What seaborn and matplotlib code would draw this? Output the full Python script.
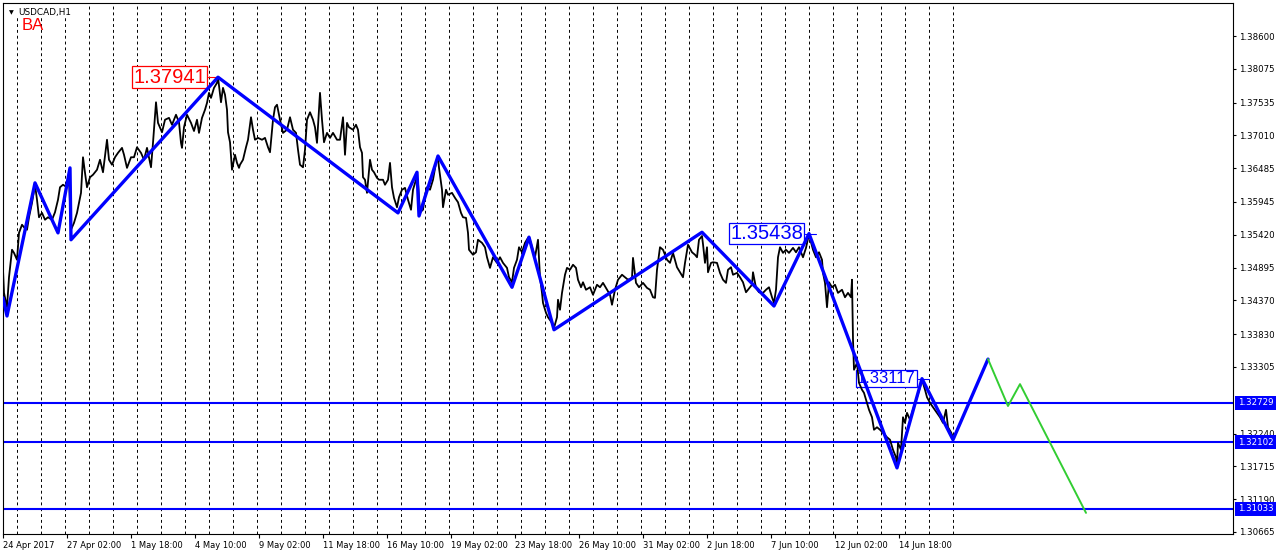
import matplotlib
matplotlib.use('Agg')
import matplotlib.pyplot as plt
import seaborn as sns
import numpy as np

# hourly bar index (0 = first bar on screen) and price
price_bars = [0, 1, 4, 6, 9, 11, 14, 16, 19, 21, 24, 26, 29, 32, 34, 36, 39, 42, 45, 49,
              52, 55, 57, 60, 64, 66, 68, 71, 74, 76, 78, 80, 82, 84, 87, 90, 94, 97, 100, 104,
              106, 109, 112, 115, 119, 121, 124, 128, 131, 134, 138, 141, 144, 148, 150, 153, 155, 159, 162, 166,
              169, 173, 176, 178, 179, 181, 184, 188, 191, 194, 196, 199, 202, 204, 206, 208, 211, 214, 215, 218,
              220, 222, 224, 225, 227, 229, 232, 234, 236, 237, 240, 243, 245, 248, 250, 252, 255, 259, 262, 265,
              267, 270, 272, 274, 277, 280, 284, 287, 290, 293, 295, 297, 300, 302, 304, 307, 310, 312, 314, 317,
              319, 321, 324, 327, 330, 334, 337, 340, 342, 344, 346, 350, 353, 355, 357, 359, 360, 362, 364, 367,
              369, 371, 374, 376, 380, 382, 385, 387, 389, 391, 394, 396, 399, 402, 405, 408, 410, 413, 415, 417,
              420, 422, 424, 427, 430, 433, 435, 436, 439, 440, 443, 445, 449, 452, 455, 458, 460, 463, 465, 466,
              470, 473, 475, 479, 482, 484, 487, 490, 494, 497, 500, 504, 506, 509, 511, 514, 516, 519, 522, 525,
              526, 529, 532, 535, 537, 539, 540, 543, 545, 549, 551, 554, 555, 557, 559, 562, 564, 567, 570, 573,
              575, 578, 580, 583, 587, 590, 594, 597, 600, 604, 607, 609, 612, 615, 619, 622, 625, 629, 630, 633,
              636, 640, 644, 647, 650, 652, 654, 657, 660, 664, 667, 670, 674, 677, 680, 682, 685, 689, 692, 694,
              696, 699, 700, 702, 704, 705, 708, 710, 714, 717, 720, 723, 725, 728, 730, 734, 737, 740, 743, 745,
              749, 750, 753, 756, 760, 763, 766, 769, 771, 773, 775, 777, 780, 783, 786, 790, 793, 796, 800, 803,
              806, 808, 810, 813, 816, 819, 820, 822, 824, 826, 829, 832, 835, 839, 842, 845, 848, 849, 850, 851,
              854, 856, 859, 861, 864, 866, 869, 871, 874, 877, 880, 884, 887, 890, 893, 894, 895, 898, 900, 902,
              904, 907, 910, 912, 914, 917, 919, 922, 924, 927, 930, 934, 937, 940, 943, 945, 948, 950]
price_vals = [1.3486, 1.3449, 1.3426, 1.3474, 1.3518, 1.3513, 1.3502, 1.3545, 1.3558, 1.3554,
              1.3550, 1.3570, 1.3593, 1.3622, 1.3598, 1.3570, 1.3577, 1.3566, 1.3570, 1.3566,
              1.3578, 1.3598, 1.3618, 1.3622, 1.3618, 1.3633, 1.3550, 1.3561, 1.3577, 1.3593,
              1.3609, 1.3666, 1.3641, 1.3618, 1.3634, 1.3638, 1.3646, 1.3662, 1.3642, 1.3694,
              1.3662, 1.3654, 1.3666, 1.3673, 1.3681, 1.3670, 1.3649, 1.3666, 1.3666, 1.3682,
              1.3673, 1.3662, 1.3681, 1.3650, 1.3689, 1.3754, 1.3721, 1.3706, 1.3726, 1.3729,
              1.3718, 1.3734, 1.3722, 1.3689, 1.3681, 1.3714, 1.3734, 1.3721, 1.3708, 1.3726,
              1.3705, 1.3729, 1.3742, 1.3753, 1.3769, 1.3761, 1.3777, 1.3785, 1.3794, 1.3754,
              1.3777, 1.3766, 1.3742, 1.3706, 1.3690, 1.3646, 1.3670, 1.3657, 1.3649, 1.3654,
              1.3662, 1.3682, 1.3694, 1.3730, 1.3710, 1.3694, 1.3697, 1.3694, 1.3697, 1.3682,
              1.3674, 1.3726, 1.3746, 1.3750, 1.3726, 1.3705, 1.3710, 1.3730, 1.3710, 1.3705,
              1.3678, 1.3654, 1.3650, 1.3678, 1.3726, 1.3738, 1.3726, 1.3714, 1.3689, 1.3769,
              1.3726, 1.3690, 1.3705, 1.3697, 1.3705, 1.3694, 1.3694, 1.3730, 1.3670, 1.3721,
              1.3714, 1.3710, 1.3718, 1.3710, 1.3682, 1.3673, 1.3634, 1.3630, 1.3609, 1.3662,
              1.3646, 1.3642, 1.3633, 1.3630, 1.3630, 1.3622, 1.3630, 1.3657, 1.3618, 1.3601,
              1.3586, 1.3602, 1.3614, 1.3617, 1.3598, 1.3582, 1.3614, 1.3630, 1.3625, 1.3578,
              1.3582, 1.3606, 1.3618, 1.3614, 1.3630, 1.3657, 1.3665, 1.3649, 1.3614, 1.3586,
              1.3614, 1.3606, 1.3609, 1.3601, 1.3594, 1.3577, 1.3570, 1.3569, 1.3545, 1.3518,
              1.3510, 1.3514, 1.3534, 1.3529, 1.3522, 1.3506, 1.3489, 1.3506, 1.3497, 1.3506,
              1.3497, 1.3489, 1.3474, 1.3466, 1.3489, 1.3502, 1.3522, 1.3514, 1.3529, 1.3537,
              1.3539, 1.3522, 1.3506, 1.3534, 1.3474, 1.3449, 1.3433, 1.3417, 1.3410, 1.3401,
              1.3393, 1.3410, 1.3438, 1.3422, 1.3449, 1.3478, 1.3489, 1.3486, 1.3494, 1.3489,
              1.3470, 1.3458, 1.3466, 1.3454, 1.3458, 1.3446, 1.3462, 1.3458, 1.3465, 1.3454,
              1.3446, 1.3430, 1.3454, 1.3470, 1.3478, 1.3474, 1.3470, 1.3473, 1.3505, 1.3465,
              1.3458, 1.3465, 1.3457, 1.3454, 1.3442, 1.3441, 1.3486, 1.3522, 1.3518, 1.3502,
              1.3497, 1.3513, 1.3490, 1.3482, 1.3474, 1.3497, 1.3526, 1.3514, 1.3510, 1.3506,
              1.3534, 1.3540, 1.3527, 1.3497, 1.3522, 1.3482, 1.3497, 1.3498, 1.3497, 1.3481,
              1.3470, 1.3465, 1.3486, 1.3490, 1.3478, 1.3481, 1.3474, 1.3466, 1.3450, 1.3454,
              1.3462, 1.3482, 1.3457, 1.3450, 1.3449, 1.3454, 1.3458, 1.3442, 1.3433, 1.3454,
              1.3506, 1.3522, 1.3513, 1.3518, 1.3513, 1.3521, 1.3514, 1.3522, 1.3506, 1.3521,
              1.3543, 1.3530, 1.3518, 1.3506, 1.3514, 1.3502, 1.3481, 1.3465, 1.3426, 1.3466,
              1.3458, 1.3462, 1.3449, 1.3454, 1.3442, 1.3449, 1.3442, 1.3470, 1.3374, 1.3326,
              1.3337, 1.3305, 1.3294, 1.3289, 1.3273, 1.3262, 1.3250, 1.3230, 1.3234, 1.3230,
              1.3225, 1.3218, 1.3214, 1.3198, 1.3186, 1.3172, 1.3209, 1.3198, 1.3250, 1.3241,
              1.3257, 1.3246, 1.3262, 1.3273, 1.3282, 1.3298, 1.3310, 1.3294, 1.3282, 1.3273,
              1.3266, 1.3257, 1.3250, 1.3241, 1.3262, 1.3234, 1.3226, 1.3218]

# zigzag swing points (blue) and the projected path (green)
zz_bars = [0, 4, 32, 55, 67, 68, 215, 395, 414, 416, 435, 509, 526, 551, 699, 771, 806, 894, 919, 950, 985]
zz_vals = [1.3441, 1.3412, 1.3625, 1.3545, 1.3649, 1.3534, 1.37941, 1.3577, 1.3642, 1.3572, 1.3668,
           1.3458, 1.3538, 1.3390, 1.3546, 1.3428, 1.35438, 1.3169, 1.33117, 1.3214, 1.3343]
proj_bars = [985, 1005, 1017, 1083]
proj_vals = [1.3343, 1.3268, 1.3303, 1.3097]

levels = [1.32729, 1.32102, 1.31033]

y_ticks = [1.38600, 1.38075, 1.37535, 1.37010, 1.36485, 1.35945, 1.35420, 1.34895,
           1.34370, 1.33830, 1.33305, 1.32240, 1.31715, 1.31190, 1.30665]
x_tick_bars = [0, 64, 128, 192, 256, 320, 384, 448, 512, 576, 640, 704, 768, 832, 896]
x_tick_labels = ['24 Apr 2017', '27 Apr 02:00', '1 May 18:00', '4 May 10:00', '9 May 02:00',
                 '11 May 18:00', '16 May 10:00', '19 May 02:00', '23 May 18:00', '26 May 10:00',
                 '31 May 02:00', '2 Jun 18:00', '7 Jun 10:00', '12 Jun 02:00', '14 Jun 18:00']
day_separators = list(range(14, 951, 24))

# swing labels: text, anchor bar (box right edge), price, colour, size
swing_labels = [('1.37941', 203, 1.37941, 'red', 14.5),
                ('1.35438', 800, 1.35438, 'blue', 14.5),
                ('1.33117', 913, 1.33117, 'blue', 12)]


def main():
    sns.set_style('white')
    plt.rcParams['font.family'] = ['DejaVu Sans']

    fig = plt.figure(figsize=(12.76, 5.55), dpi=100)
    ax = fig.add_axes([3 / 1276, 21 / 555, 1230 / 1276, 531 / 555])

    ax.vlines(day_separators, 0, 1, transform=ax.get_xaxis_transform(),
              colors='black', linestyles=(0, (3, 3)), lw=0.7, zorder=1)

    for lv in levels:
        ax.axhline(lv, color='#0000ff', lw=1.5, zorder=2)

    for txt, xb, yv, col, fs in swing_labels:
        ax.text(xb, yv, txt, color=col, fontsize=fs, family='Liberation Sans',
                ha='right', va='center', zorder=3,
                bbox=dict(boxstyle='square,pad=0.06', fc='white', ec=col, lw=0.9))
        ax.plot([xb + 2, xb + 13], [yv, yv], color=col, lw=0.8, zorder=3)

    sns.lineplot(x=price_bars, y=price_vals, ax=ax, color='black', lw=1.3,
                 estimator=None, sort=False, zorder=4)
    sns.lineplot(x=zz_bars, y=zz_vals, ax=ax, color='#0000ff', lw=2.4,
                 estimator=None, sort=False, zorder=5)
    sns.lineplot(x=proj_bars, y=proj_vals, ax=ax, color='#32cd32', lw=1.4,
                 estimator=None, sort=False, zorder=5)

    ax.set_xlim(0, 1230)
    ax.set_ylim(1.30632, 1.39128)

    ax.yaxis.tick_right()
    ax.set_yticks(y_ticks)
    ax.set_yticklabels([f'{v:.5f}' for v in y_ticks])
    ax.tick_params(axis='y', direction='out', length=2.5, width=0.8, pad=2,
                   labelsize=6.2, colors='black', right=True, left=False)

    ax.set_xticks(x_tick_bars)
    ax.set_xticklabels(x_tick_labels)
    ax.tick_params(axis='x', direction='out', length=3, width=0.8, pad=2,
                   labelsize=6, colors='black', bottom=True)
    for lbl in ax.get_xticklabels():
        lbl.set_ha('left')

    for sp in ax.spines.values():
        sp.set_visible(True)
        sp.set_color('black')
        sp.set_linewidth(0.8)

    # price labels of the horizontal levels on the right scale
    for lv in levels:
        ax.text(1 + 5 / 1230, lv, f'{lv:.5f}', transform=ax.get_yaxis_transform(),
                color='white', fontsize=6.2, ha='left', va='center', clip_on=False,
                bbox=dict(boxstyle='square,pad=0.3', fc='#0000ff', ec='none'))

    ax.text(6 / 1230, 1 - 10 / 531, '\u25bc', transform=ax.transAxes, fontsize=4.5,
            ha='left', va='center', color='black', zorder=6)
    ax.text(15 / 1230, 1 - 9 / 531, 'USDCAD,H1', transform=ax.transAxes, fontsize=6.4,
            ha='left', va='center', color='black', zorder=6,
            bbox=dict(boxstyle='square,pad=0.15', fc='white', ec='none'))
    ax.text(19 / 1230, 1 - 23 / 531, 'BA', transform=ax.transAxes, fontsize=12,
            family='Liberation Sans', ha='left', va='center', color='red', zorder=6)

    ax.set_xlabel('')
    ax.set_ylabel('')
    fig.savefig('out.png', dpi=100)


if __name__ == '__main__':
    main()
